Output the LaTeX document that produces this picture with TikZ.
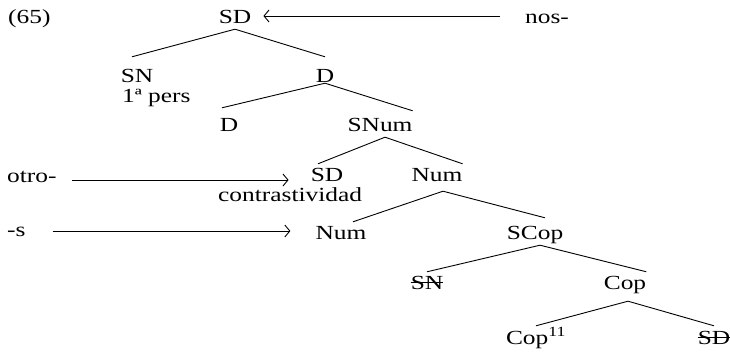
\documentclass[tikz,border=0pt]{standalone}
\usepackage{fontspec}
\setmainfont{Liberation Serif}[FakeStretch=1.27]
\usetikzlibrary{arrows.meta}

\begin{document}
\begin{tikzpicture}[
  x=1pt, y=-1pt,
  font=\fontsize{20}{24}\selectfont,
  cat/.style={anchor=base,inner xsep=0pt,inner ysep=5pt,text height=13pt,text depth=0pt},
  glosa/.style={anchor=base west,inner sep=0pt},
  rama/.style={line width=0.9pt},
  flecha/.style={line width=0.9pt,-{Straight Barb[length=5pt,width=12pt,line width=0.9pt]}},
  tachado/.style={line width=0.9pt}
]
  \useasboundingbox (0,0) rectangle (730,352);

  \node[glosa] (ej) at (8,24) {(65)};
  \node[cat] (sd) at (235,24) {SD};
  \node[glosa] (nos) at (525,24) {nos-};

  \node[cat] (sn) at (137,83) {SN};
  \node[glosa] (pers) at (122,103) {1ª pers};
  \node[cat] (d1) at (325,83) {D};

  \node[cat] (d2) at (229,132) {D};
  \node[cat] (snum) at (380,132) {SNum};

  \node[glosa] (otro) at (7,183) {otro-};
  \node[cat] (sd2) at (327,182) {SD};
  \node[cat] (num1) at (437,182) {Num};
  \node[glosa] (contr) at (218,202) {contrastividad};

  \node[glosa] (s) at (7,237) {-s};
  \node[cat] (num2) at (341,240) {Num};
  \node[cat] (scop) at (535,240) {SCop};

  \node[cat] (snx) at (427,290) {SN};
  \node[cat] (cop) at (625,290) {Cop};

  \node[cat] (cop11) at (536,344) {Cop\textsuperscript{11}};
  \node[cat] (sdx) at (714,344) {SD};

  \draw[tachado] ([yshift=8pt]snx.base west) -- ([yshift=8pt]snx.base east);
  \draw[tachado] ([yshift=7pt]sdx.base west) -- ([yshift=7pt]sdx.base east);

  \draw[rama] (sd.south) -- ([xshift=-5pt,yshift=8pt]sn.north);
  \draw[rama] (sd.south) -- ([yshift=8pt]d1.north);
  \draw[rama] ([yshift=5pt]d1.south) -- ([xshift=-7pt,yshift=6pt]d2.north);
  \draw[rama] ([yshift=5pt]d1.south) -- ([yshift=3pt]snum.north east);
  \draw[rama] ([xshift=5pt]snum.south) -- ([xshift=-9pt]sd2.north);
  \draw[rama] ([xshift=5pt]snum.south) -- (num1.north east);
  \draw[rama] ([xshift=6pt,yshift=-4pt]num1.south) -- ([xshift=12pt]num2.north);
  \draw[rama] ([xshift=6pt,yshift=-4pt]num1.south) -- ([xshift=10pt,yshift=4pt]scop.north);
  \draw[rama] ([xshift=5pt]scop.south) -- (snx.north);
  \draw[rama] ([xshift=5pt]scop.south) -- (cop.north east);
  \draw[rama] ([xshift=3pt,yshift=-6pt]cop.south) -- (cop11.north);
  \draw[rama] ([xshift=3pt,yshift=-6pt]cop.south) -- (sdx.north);

  \coordinate (a1) at ([yshift=8pt]nos.base west);
  \coordinate (a2) at ([yshift=3pt]otro.base east);
  \coordinate (a3) at ([yshift=6pt]s.base east);
  \draw[flecha,shorten <=25pt,shorten >=12pt] (a1) -- (a1 -| sd.east);
  \draw[flecha,shorten <=15pt,shorten >=22pt] (a2) -- (a2 -| sd2.west);
  \draw[flecha,shorten <=27pt,shorten >=25pt] (a3) -- (a3 -| num2.west);
\end{tikzpicture}
\end{document}
